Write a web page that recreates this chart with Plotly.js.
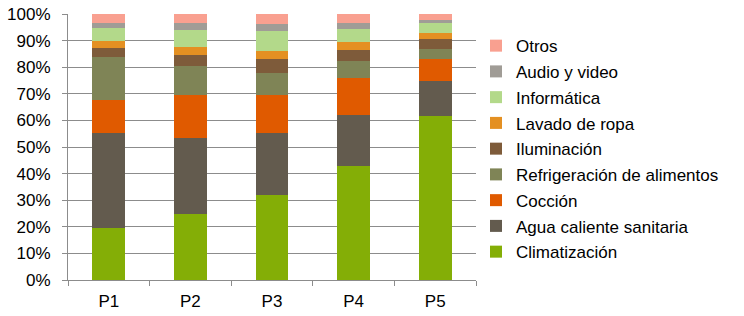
<!DOCTYPE html>
<html>
<head>
<meta charset="utf-8">
<script src="https://cdn.plot.ly/plotly-3.0.1.min.js"></script>
<style>html,body{margin:0;padding:0;background:#fff;}#chart{width:744px;height:316px;}</style>
</head>
<body>
<div id="chart"></div>
<script>
const categories = ["P1", "P2", "P3", "P4", "P5"];
const climatizacion = [19.7, 24.8, 31.8, 43.0, 61.7];
const aguaCaliente = [35.4, 28.7, 23.3, 19.0, 13.2];
const coccion = [12.6, 15.9, 14.3, 14.1, 8.1];
const refrigeracion = [16.0, 11.2, 8.5, 6.2, 3.8];
const iluminacion = [3.6, 4.0, 5.1, 4.2, 3.8];
const lavado = [2.6, 3.1, 3.1, 3.0, 2.3];
const informatica = [4.7, 6.3, 7.4, 4.9, 3.8];
const audioVideo = [2.1, 2.7, 2.9, 2.3, 1.0];
const otros = [3.3, 3.3, 3.6, 3.3, 2.3];

const seriesNames = ["Climatización", "Agua caliente sanitaria", "Cocción", "Refrigeración de alimentos", "Iluminación", "Lavado de ropa", "Informática", "Audio y video", "Otros"];
const seriesValues = [climatizacion, aguaCaliente, coccion, refrigeracion, iluminacion, lavado, informatica, audioVideo, otros];
const seriesColors = ["#84ae06", "#635b4e", "#e05a00", "#7f8456", "#7e5b3a", "#e49022", "#b3d98a", "#a09c96", "#f9a090"];

const traces = seriesNames.map((name, i) => ({
  type: "bar",
  name: name,
  x: categories,
  y: seriesValues[i],
  legendgroup: "g" + i,
  legendrank: 100 - i,
  marker: {color: seriesColors[i], line: {width: 0}},
  hoverinfo: "name+y"
}));

const FONT = "Liberation Sans, Arial, sans-serif";

const layout = {
  width: 744,
  height: 316,
  barmode: "stack",
  barnorm: "percent",
  bargap: 0.6,
  margin: {l: 68, r: 268, t: 14, b: 36},
  paper_bgcolor: "#ffffff",
  plot_bgcolor: "#ffffff",
  font: {family: FONT, size: 17, color: "#000"},
  xaxis: {
    type: "category",
    showline: true,
    linecolor: "#8c8c8c",
    linewidth: 1,
    ticks: "outside",
    tickson: "boundaries",
    ticklen: 5,
    tickcolor: "#8c8c8c",
    showgrid: false,
    ticklabelstandoff: 6,
    tickfont: {size: 17, family: FONT}
  },
  yaxis: {
    range: [0, 100],
    dtick: 10,
    ticksuffix: "%",
    showline: true,
    linecolor: "#8c8c8c",
    linewidth: 1,
    ticks: "outside",
    ticklen: 5,
    tickcolor: "#8c8c8c",
    showgrid: true,
    gridcolor: "#8c8c8c",
    gridwidth: 1,
    zeroline: false,
    ticklabelstandoff: 8,
    tickfont: {size: 17, family: FONT}
  },
  showlegend: true,
  legend: {
    x: 1.0,
    xanchor: "left",
    y: 0.947,
    yanchor: "top",
    traceorder: "grouped",
    tracegroupgap: 0.65,
    font: {size: 17, family: FONT},
    bgcolor: "rgba(0,0,0,0)"
  }
};

Plotly.newPlot("chart", traces, layout, {displayModeBar: false, staticPlot: true});
</script>
</body>
</html>
